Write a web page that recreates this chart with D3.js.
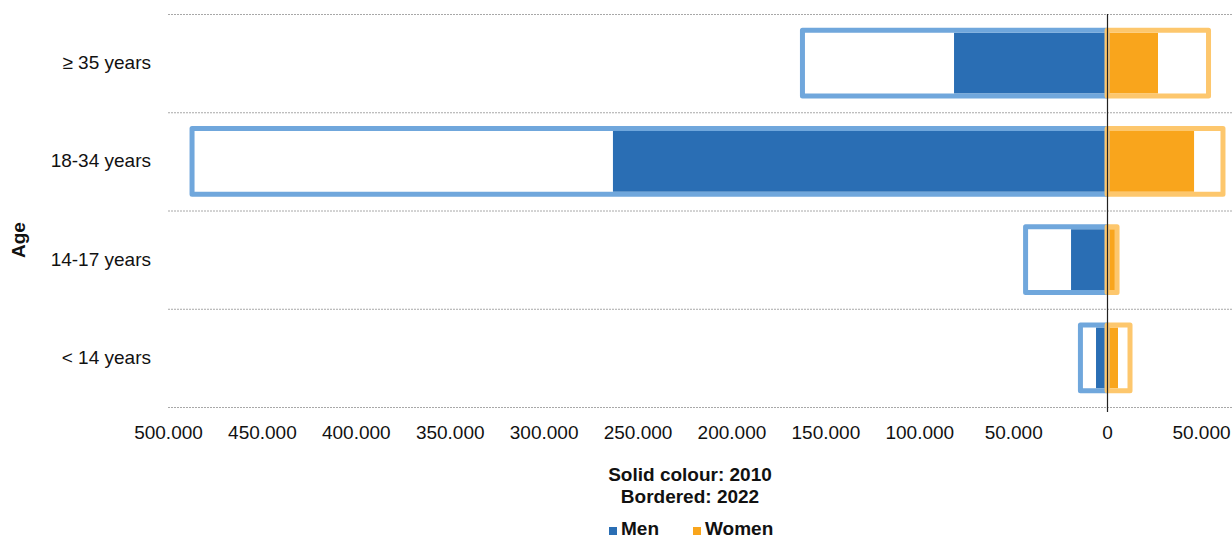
<!DOCTYPE html>
<html>
<head>
<meta charset="utf-8">
<script src="https://cdn.jsdelivr.net/npm/d3@7"></script>
<style>
  body { margin: 0; background: #fff; }
  text { font-family: Arial, "Liberation Sans", sans-serif; fill: #111; }
</style>
</head>
<body>
<script>
// Data
const ages = ["≥ 35 years", "18-34 years", "14-17 years", "< 14 years"];
const men2010 = [81500, 263100, 19200, 5900];
const men2022 = [162200, 487200, 43400, 14200];
const women2010 = [27100, 46300, 4200, 5800];
const women2022 = [54000, 61700, 5300, 12200];
const tickValues = [-500000, -450000, -400000, -350000, -300000, -250000, -200000,
                    -150000, -100000, -50000, 0, 50000];
const legendItems = ["Men", "Women"];

const width = 1232, height = 540;
const colors = {men: "#2a6eb4", menBorder: "#70a7dc", women: "#f9a51c", womenBorder: "#fdc76d"};

const svg = d3.select("body")
  .append("svg")
    .attr("width", width)
    .attr("height", height);

// Scales
const x = d3.scaleLinear()
    .domain([-500000, 66500])
    .range([168, 1232]);

const y = d3.scaleBand()
    .domain(ages)
    .range([14, 407])
    .paddingInner(0.33)
    .paddingOuter(0.165);

// Gridlines at the band boundaries
const grid = d3.range(ages.length + 1).map(i => y.range()[0] + i * y.step());
svg.append("g")
  .selectAll("line")
  .data(grid)
  .join("line")
    .attr("x1", x(-500000))
    .attr("x2", width)
    .attr("y1", d => d + 0.5)
    .attr("y2", d => d + 0.5)
    .attr("stroke", "#a8a8a8")
    .attr("stroke-dasharray", "2,1");

// Rows of data
const rows = ages.map((a, i) => ({age: a, m10: men2010[i], m22: men2022[i], w10: women2010[i], w22: women2022[i]}));

const bars = svg.append("g");
const inset = 2.5;

// 2022 white fill
bars.selectAll(".fill-m")
  .data(rows).join("rect")
    .attr("x", d => x(-d.m22))
    .attr("y", d => y(d.age))
    .attr("width", d => x(0) - x(-d.m22))
    .attr("height", y.bandwidth())
    .attr("fill", "#fff");
bars.selectAll(".fill-w")
  .data(rows).join("rect")
    .attr("x", x(0))
    .attr("y", d => y(d.age))
    .attr("width", d => x(d.w22) - x(0))
    .attr("height", y.bandwidth())
    .attr("fill", "#fff");

// 2010 solid bars
bars.selectAll(".solid-m")
  .data(rows).join("rect")
    .attr("x", d => x(-d.m10))
    .attr("y", d => y(d.age) + inset)
    .attr("width", d => x(0) - x(-d.m10))
    .attr("height", y.bandwidth() - 2 * inset)
    .attr("fill", colors.men);
bars.selectAll(".solid-w")
  .data(rows).join("rect")
    .attr("x", x(0))
    .attr("y", d => y(d.age) + inset)
    .attr("width", d => x(d.w10) - x(0))
    .attr("height", y.bandwidth() - 2 * inset)
    .attr("fill", colors.women);

// 2022 borders
bars.selectAll(".border-m")
  .data(rows).join("rect")
    .attr("x", d => x(-d.m22))
    .attr("y", d => y(d.age))
    .attr("width", d => x(0) - x(-d.m22))
    .attr("height", y.bandwidth())
    .attr("fill", "none")
    .attr("stroke", colors.menBorder)
    .attr("stroke-width", 5)
    .attr("stroke-linejoin", "round");
bars.selectAll(".border-w")
  .data(rows).join("rect")
    .attr("x", x(0))
    .attr("y", d => y(d.age))
    .attr("width", d => x(d.w22) - x(0))
    .attr("height", y.bandwidth())
    .attr("fill", "none")
    .attr("stroke", colors.womenBorder)
    .attr("stroke-width", 5)
    .attr("stroke-linejoin", "round");

// Zero line
svg.append("line")
    .attr("x1", Math.round(x(0)) + 0.5)
    .attr("x2", Math.round(x(0)) + 0.5)
    .attr("y1", y.range()[0])
    .attr("y2", y.range()[1] + 5)
    .attr("stroke", "#222")
    .attr("stroke-width", 1.2);

// X axis labels
const locale = d3.formatLocale({decimal: ",", thousands: ".", grouping: [3], currency: ["", ""]});
const fmt = locale.format(",");
const xAxis = svg.append("g")
    .attr("transform", "translate(0," + 420 + ")")
    .call(d3.axisBottom(x).tickValues(tickValues).tickSize(0).tickPadding(0)
      .tickFormat(d => fmt(Math.abs(d))));
xAxis.select(".domain").remove();
xAxis.selectAll("text")
    .attr("dy", "0")
    .attr("y", 19)
    .style("font-size", "19px")
    .style("font-family", "Arial, 'Liberation Sans', sans-serif")
    .attr("fill", "#111");

// Y axis labels
const yAxis = svg.append("g")
    .attr("transform", "translate(151,0)")
    .call(d3.axisLeft(y).tickSize(0).tickPadding(0));
yAxis.select(".domain").remove();
yAxis.selectAll("text")
    .style("font-size", "19px")
    .style("font-family", "Arial, 'Liberation Sans', sans-serif")
    .attr("fill", "#111");

// Y axis title
svg.append("text")
    .attr("transform", "translate(25,240) rotate(-90)")
    .style("text-anchor", "middle")
    .style("font-size", "19px")
    .style("font-weight", "bold")
    .text("Age");

// Caption
svg.append("text")
    .attr("x", 690).attr("y", 481)
    .style("text-anchor", "middle")
    .style("font-size", "19px")
    .style("font-weight", "bold")
    .text("Solid colour: 2010");
svg.append("text")
    .attr("x", 690).attr("y", 503)
    .style("text-anchor", "middle")
    .style("font-size", "19px")
    .style("font-weight", "bold")
    .text("Bordered: 2022");

// Legend
const legend = svg.append("g");
const legendX = [609, 693];
const legendColors = [colors.men, colors.women];
legendItems.forEach((name, i) => {
  legend.append("rect")
      .attr("x", legendX[i]).attr("y", 527)
      .attr("width", 8).attr("height", 8)
      .attr("fill", legendColors[i]);
  legend.append("text")
      .attr("x", legendX[i] + 12).attr("y", 535)
      .style("font-size", "19px")
      .style("font-weight", "bold")
      .text(name);
});
</script>
</body>
</html>
